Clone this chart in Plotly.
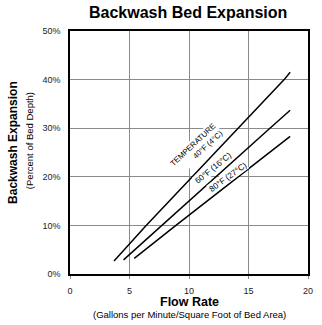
import plotly.graph_objects as go

# Flow rate (gpm/sq ft) vs. bed expansion (% of bed depth) at three water temperatures
flow_40f = [3.7, 6.4, 18.0, 18.5]
exp_40f = [2.7, 10.0, 40.0, 41.5]

flow_60f = [4.5, 7.7, 16.8, 18.5]
exp_60f = [2.9, 10.0, 30.0, 33.7]

flow_80f = [5.4, 8.9, 18.5]
exp_80f = [3.2, 10.0, 28.3]

x_ticks = [0, 5, 10, 15, 20]
y_ticks = [0, 10, 20, 30, 40, 50]
y_tick_text = [f"{v}%" for v in y_ticks]

FONT = "Liberation Sans, Arial, Helvetica, sans-serif"

fig = go.Figure()
for fx, fy in [(flow_40f, exp_40f), (flow_60f, exp_60f), (flow_80f, exp_80f)]:
    fig.add_trace(go.Scatter(x=fx, y=fy, mode="lines",
                             line=dict(color="black", width=1.5),
                             showlegend=False, hoverinfo="skip"))

# curve labels written along each line
curve_labels = [
    ("TEMPERATURE<br>40°F (4°C)", 10.6, 25.9, -43, 7.8, "right"),
    ("60°F (16°C)", 12.0, 21.8, -39, 8.3, "center"),
    ("80°F (27°C)", 13.25, 19.9, -36, 8.3, "center"),
]
for text, lx, ly, ang, fs, al in curve_labels:
    fig.add_annotation(x=lx, y=ly, xref="x", yref="y", text=text, showarrow=False,
                       textangle=ang, xanchor="center", yanchor="middle", align=al,
                       bgcolor="white", borderpad=0,
                       font=dict(family=FONT, size=fs, color="black"))

# titles
fig.add_annotation(x=0.494, y=1.078, xref="paper", yref="paper",
                   xanchor="center", yanchor="middle",
                   text="<b>Backwash Bed Expansion</b>", showarrow=False,
                   font=dict(family=FONT, size=16, color="black"))
fig.add_annotation(x=-0.24, y=0.543, xref="paper", yref="paper",
                   xanchor="center", yanchor="middle",
                   text="<b>Backwash Expansion</b>", showarrow=False, textangle=-90,
                   font=dict(family=FONT, size=12, color="black"))
fig.add_annotation(x=-0.172, y=0.547, xref="paper", yref="paper",
                   xanchor="center", yanchor="middle",
                   text="(Percent of Bed Depth)", showarrow=False, textangle=-90,
                   font=dict(family=FONT, size=9.5, color="black"))
fig.add_annotation(x=0.502, y=-0.117, xref="paper", yref="paper",
                   xanchor="center", yanchor="middle",
                   text="<b>Flow Rate</b>", showarrow=False,
                   font=dict(family=FONT, size=12.5, color="black"))
fig.add_annotation(x=0.5, y=-0.168, xref="paper", yref="paper",
                   xanchor="center", yanchor="middle",
                   text="(Gallons per Minute/Square Foot of Bed Area)", showarrow=False,
                   font=dict(family=FONT, size=9.5, color="black"))

fig.update_layout(
    width=322, height=325,
    margin=dict(l=70, r=9, t=31, b=51),
    paper_bgcolor="white", plot_bgcolor="white",
    font=dict(family=FONT, size=9, color="#222"),
    xaxis=dict(range=[0, 20], tickvals=x_ticks, showgrid=True, gridcolor="#8a8a8a",
               gridwidth=1, zeroline=False, showline=True, linecolor="black",
               linewidth=1.6, mirror=True, ticks="outside", ticklen=3,
               tickcolor="#8a8a8a", tickfont=dict(size=9), ticklabelstandoff=4),
    yaxis=dict(range=[0, 50], tickvals=y_ticks, ticktext=y_tick_text, showgrid=True,
               gridcolor="#8a8a8a", gridwidth=1, zeroline=False, showline=True,
               linecolor="black", linewidth=1.6, mirror=True, ticks="",
               tickfont=dict(size=9), ticklabelstandoff=6),
)

fig.write_html("out.html")
